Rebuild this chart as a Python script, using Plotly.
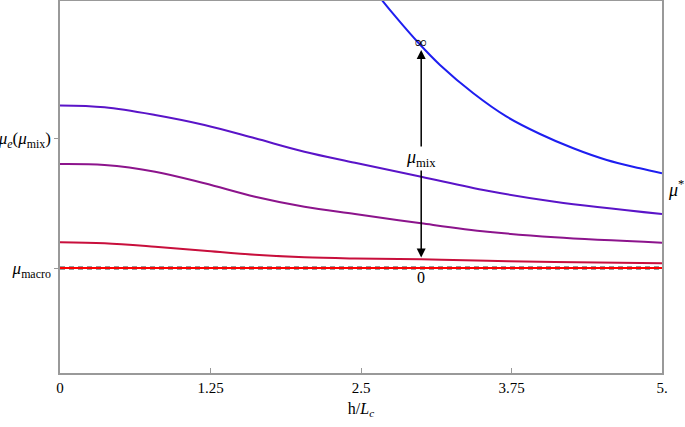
import plotly.graph_objects as go

# data (x = h/Lc, y in arbitrary units)
x_curves = [0, 0.37, 0.79, 1.20, 1.62, 2.03, 2.45, 3.0, 3.55, 4.11, 5.0]
y_indigo = [2.675, 2.657, 2.58, 2.48, 2.347, 2.213, 2.103, 1.963, 1.823, 1.713, 1.59]
y_purple = [2.09, 2.08, 2.013, 1.897, 1.763, 1.663, 1.59, 1.497, 1.413, 1.357, 1.303]
y_crimson = [1.307, 1.297, 1.263, 1.223, 1.183, 1.157, 1.145, 1.137, 1.122, 1.11, 1.097]
x_blue = [2.5, 2.64, 2.78, 2.98, 3.156, 3.433, 3.71, 3.987, 4.263, 4.541, 4.817, 5.0]
y_blue = [4.0, 3.78, 3.573, 3.297, 3.08, 2.797, 2.563, 2.39, 2.247, 2.13, 2.047, 1.997]
mu_macro = 1.05
mu_e = 2.347
x_ticks = [0, 1.25, 2.5, 3.75, 5]
x_ticktext = ["0", "1.25", "2.5", "3.75", "5."]
arrow_x = 3.0
arrow_top = 3.23
arrow_bottom = 1.14

FONT = "Liberation Serif"

fig = go.Figure()
fig.add_trace(go.Scatter(x=x_blue, y=y_blue, mode="lines", line=dict(color="rgb(30,30,240)", width=2, shape="spline")))
fig.add_trace(go.Scatter(x=x_curves, y=y_indigo, mode="lines", line=dict(color="rgb(90,20,200)", width=2, shape="spline")))
fig.add_trace(go.Scatter(x=x_curves, y=y_purple, mode="lines", line=dict(color="rgb(140,20,140)", width=2, shape="spline")))
fig.add_trace(go.Scatter(x=x_curves, y=y_crimson, mode="lines", line=dict(color="rgb(200,15,60)", width=2, shape="spline")))
fig.add_trace(go.Scatter(x=[0, 5], y=[mu_macro, mu_macro], mode="lines", line=dict(color="#999999", width=4, dash="5px,4px")))
fig.add_trace(go.Scatter(x=[0, 5], y=[mu_macro, mu_macro], mode="lines", line=dict(color="rgb(255,0,0)", width=2)))

# double arrow
fig.add_annotation(x=arrow_x, y=arrow_top, ax=arrow_x, ay=arrow_bottom, xref="x", yref="y", axref="x", ayref="y",
                   text="", showarrow=True, arrowside="end+start", arrowhead=2, arrowsize=1.2, arrowwidth=1.5,
                   arrowcolor="black", standoff=0, startstandoff=0)
fig.add_annotation(x=arrow_x, y=2.15, text="<i>μ</i><sub>mix</sub>", showarrow=False, bgcolor="white",
                   font=dict(family=FONT, size=18, color="black"), borderpad=0)
fig.add_annotation(x=arrow_x, y=3.31, text="∞", showarrow=False, font=dict(family=FONT, size=17, color="black"))
fig.add_annotation(x=arrow_x, y=0.96, text="0", showarrow=False, font=dict(family=FONT, size=16, color="black"))
fig.add_annotation(x=1.0, y=1.85, xref="paper", yref="y", xanchor="left", xshift=4, text="<i>μ</i><sup>*</sup>",
                   showarrow=False, font=dict(family=FONT, size=18, color="black"))

fig.update_layout(
    width=685, height=427,
    margin=dict(l=60, r=23, t=1, b=54),
    paper_bgcolor="white", plot_bgcolor="white",
    showlegend=False,
    font=dict(family=FONT, size=15, color="black"),
)
fig.update_xaxes(range=[0, 5], tickvals=x_ticks, ticktext=x_ticktext, ticks="inside", ticklen=5,
                 tickcolor="#999999", showgrid=False, zeroline=False, showline=True, mirror=True,
                 linecolor="#999999", linewidth=1.5, tickfont=dict(family=FONT, size=15), automargin=False,
                 title=dict(text="h/<i>L</i><sub><i>c</i></sub>", font=dict(family=FONT, size=16), standoff=8))
fig.update_yaxes(range=[0, 3.72], tickvals=[mu_macro, mu_e],
                 ticktext=["<i>μ</i><sub>macro</sub>", "<i>μ</i><sub><i>e</i></sub>(<i>μ</i><sub>mix</sub>)"],
                 ticks="outside", ticklen=4, tickcolor="#999999", showgrid=False, zeroline=False, showline=True,
                 mirror=True, linecolor="#999999", linewidth=1.5, tickfont=dict(family=FONT, size=17),
                 automargin=False, ticklabelstandoff=0)

fig.write_html("out.html", post_script="document.body.style.margin='0';",
               config={"displayModeBar": False})
